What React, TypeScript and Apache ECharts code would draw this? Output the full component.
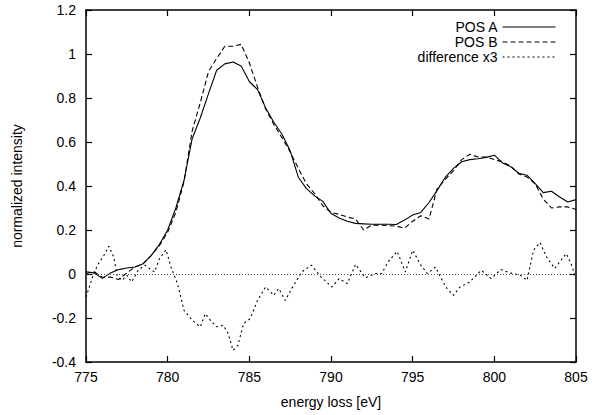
import React, { useEffect, useRef } from "react";
import * as echarts from "echarts";

const energyAB = [
  775, 775.5, 776, 776.5, 777, 777.5, 778, 778.5, 779, 779.5, 780, 780.5, 781, 781.5, 782, 782.5,
  783, 783.5, 784, 784.5, 785, 785.5, 786, 786.5, 787, 787.5, 788, 788.5, 789, 789.5, 790, 790.5,
  791, 791.5, 792, 792.5, 793, 793.5, 794, 794.5, 795, 795.5, 796, 796.5, 797, 797.5, 798, 798.5,
  799, 799.5, 800, 800.5, 801, 801.5, 802, 802.5, 803, 803.5, 804, 804.5, 805,
];
const posA = [
  0.01, 0.005, -0.02, 0.005, 0.02, 0.027, 0.032, 0.047, 0.085, 0.135, 0.2, 0.3, 0.425, 0.615, 0.71, 0.82,
  0.926, 0.955, 0.964, 0.945, 0.875, 0.838, 0.755, 0.69, 0.635, 0.56, 0.44, 0.388, 0.355, 0.33, 0.275, 0.255,
  0.24, 0.23, 0.228, 0.226, 0.226, 0.226, 0.225, 0.245, 0.268, 0.28, 0.325, 0.38, 0.44, 0.48, 0.51, 0.52,
  0.524, 0.53, 0.54, 0.505, 0.488, 0.458, 0.449, 0.411, 0.37, 0.376, 0.35, 0.327, 0.338,
];
const posB = [
  0.002, 0.01, -0.015, -0.014, -0.025, 0.005, 0.032, 0.047, 0.085, 0.13, 0.19, 0.28, 0.42, 0.65, 0.78, 0.92,
  0.98, 1.035, 1.035, 1.044, 0.96, 0.85, 0.75, 0.68, 0.62, 0.555, 0.48, 0.41, 0.365, 0.31, 0.28, 0.271,
  0.259, 0.25, 0.2, 0.222, 0.222, 0.22, 0.218, 0.208, 0.24, 0.265, 0.25, 0.388, 0.43, 0.47, 0.52, 0.544,
  0.532, 0.532, 0.52, 0.51, 0.49, 0.455, 0.441, 0.41, 0.34, 0.3, 0.305, 0.305, 0.293,
];
const energyDiff = [
  775, 775.4, 775.7, 776.1, 776.4, 776.7, 776.9, 777.2, 777.5, 777.8, 778.2, 778.6, 778.9, 779.2, 779.5, 779.9,
  780.2, 780.6, 781.0, 781.5, 782.0, 782.3, 782.7, 783.0, 783.4, 783.7, 784.0, 784.3, 784.65, 785.05, 785.5, 786.0,
  786.5, 786.8, 787.2, 787.6, 788.2, 788.8, 789.4, 790.05, 790.5, 791.0, 791.5, 792.1, 792.7, 793.1, 793.5, 794.05,
  794.55, 795.0, 795.5, 795.9, 796.4, 796.7, 797.1, 797.5, 797.9, 798.5, 799.2, 799.8, 800.4, 801.1, 801.6, 802.0,
  802.4, 802.8, 803.2, 803.7, 804.0, 804.4, 804.7, 805,
];
const diffX3 = [
  -0.105, -0.014, 0.04, 0.085, 0.126, 0.077, -0.006, -0.029, -0.006, -0.036, 0.017, 0.04, 0.024, 0.009, 0.07, 0.11,
  0.032, -0.044, -0.165, -0.21, -0.24, -0.18, -0.218, -0.24, -0.233, -0.27, -0.347, -0.324, -0.225, -0.203, -0.12, -0.059,
  -0.097, -0.066, -0.12, -0.066, 0.009, 0.04, -0.014, -0.059, -0.021, -0.044, 0.044, -0.017, 0.002, 0.002, 0.055, 0.103,
  0.009, 0.108, 0.04, 0.002, 0.032, -0.014, -0.066, -0.097, -0.059, -0.036, 0.017, -0.021, 0.02, 0.002, -0.006, -0.029,
  0.108, 0.143, 0.077, 0.025, 0.055, 0.093, 0.047, -0.021,
];
const seriesNames = ["POS A", "POS B", "difference x3"];

const FONT = "'Liberation Sans', Arial, sans-serif";
const FS = 14;

export default function App() {
  const ref = useRef<HTMLDivElement>(null);
  useEffect(() => {
    if (!ref.current) return;
    const chart = echarts.init(ref.current, null, { renderer: "svg" });
    const zip = (xs: number[], ys: number[]) => xs.map((x, i) => [x, ys[i]]);
    const axisLine = { show: true, onZero: false, lineStyle: { color: "#000", width: 1.5 } };
    const tickStyle = { show: true, inside: true, length: 6, lineStyle: { color: "#000", width: 1.2 } };
    chart.setOption({
      animation: false,
      backgroundColor: "#fff",
      textStyle: { fontFamily: FONT },
      grid: { left: 86, right: 16, top: 10, bottom: 53, containLabel: false },
      legend: {
        orient: "vertical",
        right: 31,
        top: 15,
        align: "right",
        itemWidth: 53,
        itemHeight: 12,
        itemGap: 1,
        itemStyle: { opacity: 0 },
        lineStyle: { width: 1 },
        textStyle: { fontFamily: FONT, fontSize: FS, color: "#000" },
        data: seriesNames,
      },
      xAxis: [
        {
          type: "value",
          min: 775,
          max: 805,
          interval: 5,
          name: "energy loss [eV]",
          nameLocation: "middle",
          nameGap: 33,
          nameTextStyle: { fontFamily: FONT, fontSize: FS, color: "#000" },
          axisLine,
          axisTick: tickStyle,
          axisLabel: { color: "#000", fontSize: FS, fontFamily: FONT, margin: 8 },
          splitLine: { show: false },
        },
        {
          type: "value",
          position: "top",
          min: 775,
          max: 805,
          interval: 5,
          axisLine,
          axisTick: tickStyle,
          axisLabel: { show: false },
          splitLine: { show: false },
        },
      ],
      yAxis: [
        {
          type: "value",
          min: -0.4,
          max: 1.2,
          interval: 0.2,
          name: "normalized intensity",
          nameLocation: "middle",
          nameGap: 62,
          nameTextStyle: { fontFamily: FONT, fontSize: FS, color: "#000" },
          axisLine,
          axisTick: tickStyle,
          axisLabel: {
            color: "#000",
            fontSize: FS,
            fontFamily: FONT,
            margin: 10,
            formatter: (v: number) => String(Math.round(v * 10) / 10),
          },
          splitLine: { show: false },
        },
        {
          type: "value",
          position: "right",
          min: -0.4,
          max: 1.2,
          interval: 0.2,
          axisLine,
          axisTick: tickStyle,
          axisLabel: { show: false },
          splitLine: { show: false },
        },
      ],
      series: [
        {
          name: seriesNames[0],
          type: "line",
          data: zip(energyAB, posA),
          symbol: "none",
          lineStyle: { color: "#000", width: 1.1, type: "solid" },
          itemStyle: { color: "#000" },
        },
        {
          name: seriesNames[1],
          type: "line",
          data: zip(energyAB, posB),
          symbol: "none",
          lineStyle: { color: "#000", width: 1.1, type: [5, 3] },
          itemStyle: { color: "#000" },
        },
        {
          name: seriesNames[2],
          type: "line",
          data: zip(energyDiff, diffX3),
          symbol: "none",
          lineStyle: { color: "#000", width: 1.1, type: [2, 3] },
          itemStyle: { color: "#000" },
          markLine: {
            silent: true,
            symbol: "none",
            label: { show: false },
            lineStyle: { color: "#555", width: 1, type: [1, 2] },
            data: [{ yAxis: 0 }],
          },
        },
      ],
    });
    return () => chart.dispose();
  }, []);
  return (
    <div
      ref={ref}
      style={{ position: "fixed", left: 0, top: 0, width: 592, height: 415, background: "#fff" }}
    />
  );
}
